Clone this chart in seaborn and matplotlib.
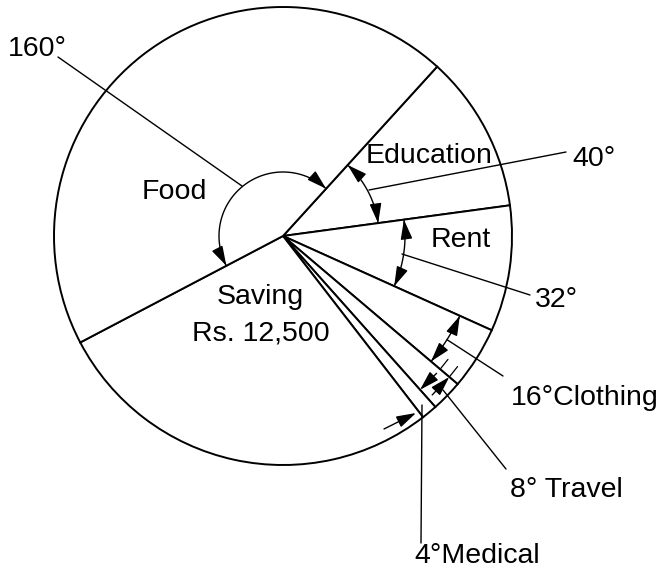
import numpy as np
import matplotlib
matplotlib.use("Agg")
import matplotlib.pyplot as plt
import seaborn as sns

# ---- data ----
categories = ["Education", "Rent", "Clothing", "Travel", "Medical", "Saving", "Food"]
degrees = [40, 32, 16, 8, 4, 100, 160]
angle_labels = ["40°", "32°", "16°Clothing", "8° Travel", "4°Medical", "", "160°"]
saving_amount = "Rs. 12,500"

sns.set_style("white")
plt.rcParams["font.family"] = ["Liberation Sans", "DejaVu Sans"]
plt.rcParams["text.color"] = "black"

W, H = 659, 574
fig = plt.figure(figsize=(W / 100, H / 100), dpi=100)
ax = fig.add_axes([0, 0, 1, 1])

cx, cy, R = 283, H - 236, 229
start = 47.7

ax.pie(degrees, startangle=start, counterclock=False, center=(cx, cy), radius=R,
       wedgeprops=dict(facecolor="white", edgecolor="black", linewidth=1.4),
       frame=True)
ax.set_xlim(0, W)
ax.set_ylim(0, H)
ax.set_aspect("equal")
ax.axis("off")

# boundaries (visual angles, ccw positive)
bounds = [start]
for d in degrees:
    bounds.append(bounds[-1] - d)


def P(x, y):
    return (x, H - y)


def pol(r, a):
    t = np.deg2rad(a)
    return (cx + r * np.cos(t), cy + r * np.sin(t))


AP = dict(arrowstyle="-|>,head_length=0.6,head_width=0.18", color="black",
          lw=1.0, shrinkA=0, shrinkB=0, mutation_scale=20)


def arrow_tip(r, a, direction):
    t = np.deg2rad(a)
    tip = np.array(pol(r, a))
    tang = np.array([-np.sin(t), np.cos(t)]) * direction
    tail = tip - tang * 14
    ax.annotate("", xy=tip, xytext=tail, arrowprops=AP)


def angle_arc(r, a1, a2):
    ts = np.linspace(a1, a2, 120)
    pts = np.array([pol(r, t) for t in ts])
    ax.plot(pts[:, 0], pts[:, 1], color="black", lw=1.0)
    arrow_tip(r, a1, -1)
    arrow_tip(r, a2, +1)


def line(p1, p2, lw=1.0):
    a, b = P(*p1), P(*p2)
    ax.plot([a[0], b[0]], [a[1], b[1]], color="black", lw=lw)


FS = 20.5
# Food 160
angle_arc(64, bounds[0], bounds[0] + degrees[6])
line((58, 57), (242, 186))
ax.text(*P(8, 49), angle_labels[6], fontsize=FS, ha="left", va="center")

# Education 40
angle_arc(96, bounds[1], bounds[0])
line((369, 190), (566, 152))
ax.text(*P(572, 159), angle_labels[0], fontsize=FS, ha="left", va="center")

# Rent 32
angle_arc(122, bounds[2], bounds[1])
line((402, 254), (530, 295))
ax.text(*P(535, 300), angle_labels[1], fontsize=FS, ha="left", va="center")

# Clothing 16
angle_arc(194, bounds[3], bounds[2])
mid = pol(194, (bounds[2] + bounds[3]) / 2)
ax.plot([mid[0], 503], [mid[1], H - 376], color="black", lw=1.0)
ax.text(*P(511, 398), angle_labels[2], fontsize=FS, ha="left", va="center")

# Travel 8
mt = (bounds[3] + bounds[4]) / 2
ax.annotate("", xy=pol(206, bounds[4]), xytext=pol(206, mt + 2.5), arrowprops=AP)
ax.annotate("", xy=pol(218, bounds[3]), xytext=pol(218, mt - 2.5), arrowprops=AP)
for rr in (206, 218):
    a, b = pol(rr, bounds[3] + 3.5), pol(rr, bounds[3])
    ax.plot([a[0], b[0]], [a[1], b[1]], color="black", lw=0.9)
line((443, 390), (506, 469))
ax.text(*P(510, 490), angle_labels[3], fontsize=FS, ha="left", va="center")

# Medical 4
ax.annotate("", xy=P(416, 413), xytext=P(384, 429), arrowprops=AP)
line((422, 405), (421, 543))
ax.text(*P(414, 556), angle_labels[4], fontsize=FS, ha="left", va="center")

# category labels
ax.text(*P(174, 192), categories[6], fontsize=FS, ha="center", va="center")
ax.text(*P(429, 156), categories[0], fontsize=FS, ha="center", va="center")
ax.text(*P(461, 240), categories[1], fontsize=FS, ha="center", va="center")
ax.text(*P(260, 297), categories[5], fontsize=FS, ha="center", va="center")
ax.text(*P(261, 333), saving_amount, fontsize=FS, ha="center", va="center")

fig.savefig("out.png", dpi=100, facecolor="white")
